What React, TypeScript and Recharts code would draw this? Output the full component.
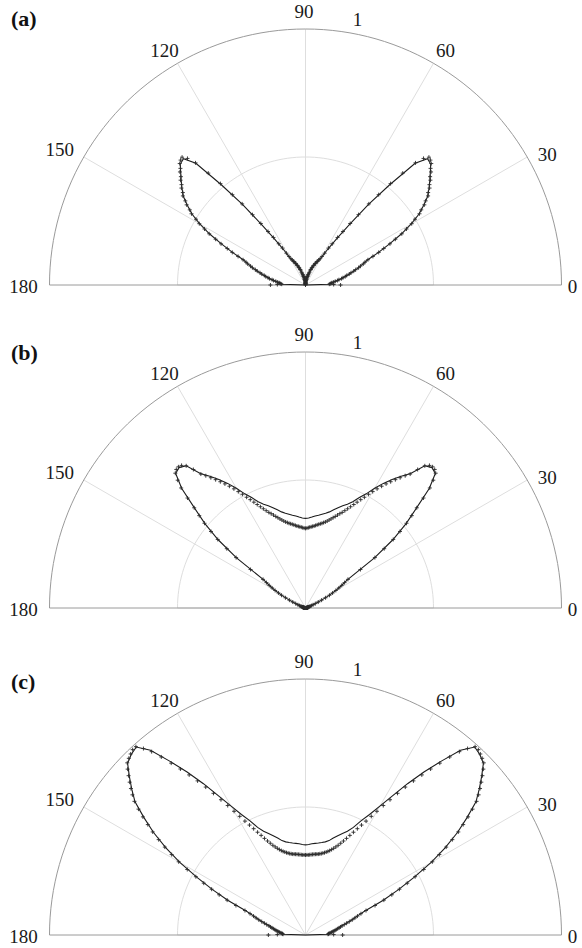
import React from "react";
import {
  RadarChart,
  Radar,
  PolarGrid,
  PolarAngleAxis,
  PolarRadiusAxis,
} from "recharts";

// angle samples (degrees) for the model curves and the simulated points
const LINE_ANGLES = [
  0, 2, 4, 6, 8, 10, 12, 14, 16, 18, 20, 22, 24, 26, 28, 30, 32, 34, 36, 38,
  40, 42, 44, 46, 48, 50, 52, 54, 56, 58, 60, 62, 64, 66, 68, 70, 72, 74, 76,
  78, 80, 82, 84, 86, 88, 90, 92, 94, 96, 98, 100, 102, 104, 106, 108, 110,
  112, 114, 116, 118, 120, 122, 124, 126, 128, 130, 132, 134, 136, 138, 140,
  142, 144, 146, 148, 150, 152, 154, 156, 158, 160, 162, 164, 166, 168, 170,
  172, 174, 176, 178, 180,
];

const SIM_ANGLES = [
  0, 1, 2, 3, 4, 5, 6, 7, 8, 9, 10, 11, 12, 13, 14, 15, 16, 17, 18, 19, 20,
  21, 22, 23, 24, 25, 26, 27, 28, 29, 30, 31, 32, 33, 34, 35, 36, 37, 38, 39,
  40, 41, 42, 43, 44, 45, 46, 47, 48, 49, 50, 51, 52, 53, 54, 55, 56, 57, 58,
  59, 60, 61, 62, 63, 64, 65, 66, 67, 68, 69, 70, 71, 72, 73, 74, 75, 76, 77,
  78, 79, 80, 81, 82, 83, 84, 85, 86, 87, 88, 89, 90, 91, 92, 93, 94, 95, 96,
  97, 98, 99, 100, 101, 102, 103, 104, 105, 106, 107, 108, 109, 110, 111, 112,
  113, 114, 115, 116, 117, 118, 119, 120, 121, 122, 123, 124, 125, 126, 127,
  128, 129, 130, 131, 132, 133, 134, 135, 136, 137, 138, 139, 140, 141, 142,
  143, 144, 145, 146, 147, 148, 149, 150, 151, 152, 153, 154, 155, 156, 157,
  158, 159, 160, 161, 162, 163, 164, 165, 166, 167, 168, 169, 170, 171, 172,
  173, 174, 175, 176, 177, 178, 179, 180,
];

const SPOKES = [30, 60, 90, 120, 150];

// (a) model
const A_LINE = [
  0, 0.09, 0.1, 0.11, 0.125, 0.142, 0.158, 0.175, 0.195, 0.217, 0.238, 0.261,
  0.311, 0.364, 0.424, 0.477, 0.523, 0.557, 0.59, 0.612, 0.634, 0.656, 0.68,
  0.686, 0.64, 0.51, 0.4, 0.293, 0.22, 0.168, 0.125, 0.11, 0.1, 0.09, 0.08,
  0.07, 0.06, 0.047, 0.039, 0.033, 0.027, 0.021, 0.016, 0.01, 0.005, 0,
  0.005, 0.01, 0.016, 0.021, 0.027, 0.033, 0.039, 0.047, 0.06, 0.07, 0.08,
  0.09, 0.1, 0.11, 0.125, 0.168, 0.22, 0.293, 0.4, 0.51, 0.64, 0.686, 0.68,
  0.656, 0.634, 0.612, 0.59, 0.557, 0.523, 0.477, 0.424, 0.364, 0.311, 0.261,
  0.238, 0.217, 0.195, 0.175, 0.158, 0.142, 0.125, 0.11, 0.1, 0.09, 0,
];

// (a) simulation
const A_SIM = [
  0.137, 0.11, 0.093, 0.097, 0.101, 0.104, 0.111, 0.117, 0.126, 0.132,
  0.143, 0.149, 0.159, 0.165, 0.176, 0.184, 0.196, 0.205, 0.218, 0.227,
  0.24, 0.249, 0.263, 0.286, 0.313, 0.337, 0.367, 0.394, 0.426, 0.451,
  0.479, 0.499, 0.525, 0.539, 0.56, 0.573, 0.592, 0.6, 0.615, 0.623,
  0.637, 0.645, 0.66, 0.668, 0.683, 0.69, 0.694, 0.676, 0.642, 0.579,
  0.517, 0.454, 0.402, 0.344, 0.297, 0.255, 0.224, 0.192, 0.17, 0.145,
  0.129, 0.117, 0.111, 0.104, 0.101, 0.094, 0.091, 0.084, 0.081, 0.074,
  0.071, 0.064, 0.061, 0.052, 0.048, 0.042, 0.04, 0.035, 0.034, 0.029,
  0.028, 0.023, 0.022, 0.017, 0.017, 0.012, 0.011, 0.007, 0.006, 0.002,
  0, 0.002, 0.006, 0.007, 0.011, 0.012, 0.017, 0.017, 0.022, 0.023,
  0.028, 0.029, 0.034, 0.035, 0.04, 0.042, 0.048, 0.052, 0.061, 0.064,
  0.071, 0.074, 0.081, 0.084, 0.091, 0.094, 0.101, 0.104, 0.111, 0.117,
  0.129, 0.145, 0.17, 0.192, 0.224, 0.255, 0.297, 0.344, 0.402, 0.454,
  0.517, 0.579, 0.642, 0.676, 0.694, 0.69, 0.683, 0.668, 0.66, 0.645,
  0.637, 0.623, 0.615, 0.6, 0.592, 0.573, 0.56, 0.539, 0.525, 0.499,
  0.479, 0.451, 0.426, 0.394, 0.367, 0.337, 0.313, 0.286, 0.263, 0.249,
  0.24, 0.227, 0.218, 0.205, 0.196, 0.184, 0.176, 0.165, 0.159, 0.149,
  0.143, 0.132, 0.126, 0.117, 0.111, 0.104, 0.101, 0.097, 0.093, 0.11,
  0.137,
];

// (b) model
const B_LINE = [
  0, 0.002, 0.003, 0.004, 0.005, 0.006, 0.007, 0.008, 0.01, 0.012, 0.015,
  0.024, 0.041, 0.07, 0.105, 0.136, 0.166, 0.197, 0.333, 0.433, 0.513, 0.583,
  0.672, 0.73, 0.738, 0.725, 0.667, 0.636, 0.605, 0.574, 0.54, 0.505, 0.48,
  0.454, 0.437, 0.425, 0.412, 0.399, 0.387, 0.378, 0.372, 0.366, 0.361,
  0.356, 0.352, 0.35, 0.352, 0.356, 0.361, 0.366, 0.372, 0.378, 0.387, 0.399,
  0.412, 0.425, 0.437, 0.454, 0.48, 0.505, 0.54, 0.574, 0.605, 0.636, 0.667,
  0.725, 0.738, 0.73, 0.672, 0.583, 0.513, 0.433, 0.333, 0.197, 0.166, 0.136,
  0.105, 0.07, 0.041, 0.024, 0.015, 0.012, 0.01, 0.008, 0.007, 0.006, 0.005,
  0.004, 0.003, 0.002, 0,
];

// (b) simulation
const B_SIM = [
  0, 0, 0.002, 0.003, 0.004, 0.004, 0.005, 0.005, 0.006, 0.006,
  0.007, 0.007, 0.008, 0.008, 0.009, 0.01, 0.011, 0.012, 0.013, 0.014,
  0.016, 0.02, 0.025, 0.032, 0.042, 0.055, 0.07, 0.088, 0.106, 0.121,
  0.137, 0.152, 0.167, 0.182, 0.2, 0.262, 0.335, 0.385, 0.435, 0.475,
  0.515, 0.55, 0.585, 0.63, 0.675, 0.706, 0.732, 0.74, 0.742, 0.738,
  0.725, 0.696, 0.664, 0.647, 0.629, 0.612, 0.595, 0.578, 0.561, 0.543,
  0.525, 0.508, 0.49, 0.475, 0.46, 0.446, 0.433, 0.421, 0.41, 0.4,
  0.392, 0.384, 0.376, 0.369, 0.362, 0.356, 0.35, 0.345, 0.341, 0.337,
  0.334, 0.331, 0.328, 0.325, 0.322, 0.32, 0.318, 0.316, 0.314, 0.312,
  0.311, 0.312, 0.314, 0.316, 0.318, 0.32, 0.322, 0.325, 0.328, 0.331,
  0.334, 0.337, 0.341, 0.345, 0.35, 0.356, 0.362, 0.369, 0.376, 0.384,
  0.392, 0.4, 0.41, 0.421, 0.433, 0.446, 0.46, 0.475, 0.49, 0.508,
  0.525, 0.543, 0.561, 0.578, 0.595, 0.612, 0.629, 0.647, 0.664, 0.696,
  0.725, 0.738, 0.742, 0.74, 0.732, 0.706, 0.675, 0.63, 0.585, 0.55,
  0.515, 0.475, 0.435, 0.385, 0.335, 0.262, 0.2, 0.182, 0.167, 0.152,
  0.137, 0.121, 0.106, 0.088, 0.07, 0.055, 0.042, 0.032, 0.025, 0.02,
  0.016, 0.014, 0.013, 0.012, 0.011, 0.01, 0.009, 0.008, 0.008, 0.007,
  0.007, 0.006, 0.006, 0.005, 0.005, 0.004, 0.004, 0.003, 0.002, 0,
  0,
];

// (c) model
const C_LINE = [
  0, 0.085, 0.09, 0.1, 0.11, 0.12, 0.132, 0.145, 0.165, 0.19, 0.213, 0.25,
  0.331, 0.404, 0.48, 0.567, 0.643, 0.716, 0.78, 0.845, 0.886, 0.926, 0.966,
  0.98, 0.988, 0.942, 0.862, 0.787, 0.713, 0.641, 0.581, 0.533, 0.497, 0.46,
  0.437, 0.422, 0.408, 0.394, 0.38, 0.372, 0.367, 0.363, 0.36, 0.357, 0.354,
  0.352, 0.354, 0.357, 0.36, 0.363, 0.367, 0.372, 0.38, 0.394, 0.408, 0.422,
  0.437, 0.46, 0.497, 0.533, 0.581, 0.641, 0.713, 0.787, 0.862, 0.942, 0.988,
  0.98, 0.966, 0.926, 0.886, 0.845, 0.78, 0.716, 0.643, 0.567, 0.48, 0.404,
  0.331, 0.25, 0.213, 0.19, 0.165, 0.145, 0.132, 0.12, 0.11, 0.1, 0.09,
  0.085, 0,
];

// (c) simulation
const C_SIM = [
  0.145, 0.11, 0.088, 0.09, 0.093, 0.097, 0.102, 0.107, 0.112, 0.117,
  0.122, 0.128, 0.134, 0.14, 0.147, 0.157, 0.167, 0.179, 0.192, 0.204,
  0.216, 0.232, 0.255, 0.295, 0.335, 0.372, 0.408, 0.446, 0.485, 0.528,
  0.572, 0.61, 0.648, 0.684, 0.72, 0.752, 0.785, 0.817, 0.848, 0.87,
  0.89, 0.91, 0.93, 0.95, 0.968, 0.976, 0.983, 0.99, 0.99, 0.965,
  0.935, 0.895, 0.852, 0.812, 0.773, 0.735, 0.697, 0.66, 0.623, 0.59,
  0.558, 0.53, 0.504, 0.482, 0.462, 0.443, 0.426, 0.41, 0.396, 0.384,
  0.373, 0.364, 0.356, 0.349, 0.343, 0.338, 0.334, 0.33, 0.327, 0.324,
  0.322, 0.32, 0.319, 0.318, 0.317, 0.316, 0.315, 0.314, 0.313, 0.313,
  0.3125, 0.313, 0.313, 0.314, 0.315, 0.316, 0.317, 0.318, 0.319, 0.32,
  0.322, 0.324, 0.327, 0.33, 0.334, 0.338, 0.343, 0.349, 0.356, 0.364,
  0.373, 0.384, 0.396, 0.41, 0.426, 0.443, 0.462, 0.482, 0.504, 0.53,
  0.558, 0.59, 0.623, 0.66, 0.697, 0.735, 0.773, 0.812, 0.852, 0.895,
  0.935, 0.965, 0.99, 0.99, 0.983, 0.976, 0.968, 0.95, 0.93, 0.91,
  0.89, 0.87, 0.848, 0.817, 0.785, 0.752, 0.72, 0.684, 0.648, 0.61,
  0.572, 0.528, 0.485, 0.446, 0.408, 0.372, 0.335, 0.295, 0.255, 0.232,
  0.216, 0.204, 0.192, 0.179, 0.167, 0.157, 0.147, 0.14, 0.134, 0.128,
  0.122, 0.117, 0.112, 0.107, 0.102, 0.097, 0.093, 0.09, 0.088, 0.11,
  0.145,
];

const W = 582;
const H = 312;
const CX = 305.5;
const CY = 290;
const R = 256;
const SERIF = "'Liberation Serif', 'Times New Roman', serif";
const NO_MARGIN = { top: 0, right: 0, bottom: 0, left: 0 };

// label nudges around the default tick anchor
const ANGLE_SHIFT: Record<number, [number, number]> = {
  0: [3, 1],
  30: [13, 1],
  60: [8, -6],
  90: [-1.5, -9.5],
  120: [-9, -6],
  150: [-17, -4],
  180: [-18, 1],
};
const RADIUS_SHIFT: Record<number, [number, number]> = {
  0.5: [20, -17],
  1: [7.5, -13],
};

function AngleTick(props: any) {
  const { x, y, payload } = props;
  const shift = ANGLE_SHIFT[payload.value];
  if (!shift) return null;
  return (
    <text
      x={x + shift[0]}
      y={y + shift[1]}
      textAnchor="middle"
      dominantBaseline="central"
      fontFamily={SERIF}
      fontSize={19}
      fill="#1a1a1a"
    >
      {payload.value}
    </text>
  );
}

function RadiusTick(props: any) {
  const { x, y, payload } = props;
  const shift = RADIUS_SHIFT[payload.value];
  if (!shift) return null;
  return (
    <text
      x={x + shift[0]}
      y={y + shift[1]}
      textAnchor="middle"
      dominantBaseline="central"
      fontFamily={SERIF}
      fontSize={19}
      fill="#1a1a1a"
    >
      {payload.value}
    </text>
  );
}

function Cross(props: any) {
  const { cx, cy, index } = props;
  if (cx == null || cy == null) return <g key={`x-${index}`} />;
  return (
    <path
      key={`x-${index}`}
      d={`M${cx - 2},${cy}h4M${cx},${cy - 2}v4`}
      stroke="#2a2a2a"
      strokeWidth={0.9}
      fill="none"
    />
  );
}

type PanelProps = {
  tag: string;
  line: number[];
  sim: number[];
  top: number;
  tagTop: number;
};

function Panel({ tag, line, sim, top, tagTop }: PanelProps) {
  const lineRows = LINE_ANGLES.map((angle, i) => ({ angle, r: line[i] }));
  const simRows = SIM_ANGLES.map((angle, i) => ({ angle, r: sim[i] }));
  const common = {
    width: W,
    height: H,
    cx: CX,
    cy: CY,
    outerRadius: R,
    startAngle: 0,
    endAngle: 180,
    margin: NO_MARGIN,
  };
  return (
    <div style={{ position: "absolute", left: 0, top, width: W, height: H }}>
      <div style={{ position: "absolute", left: 0, top: 0 }}>
        <RadarChart {...common} data={lineRows}>
          <PolarGrid
            gridType="polygon"
            polarAngles={LINE_ANGLES}
            polarRadius={[R / 2]}
            radialLines={false}
            stroke="#dedede"
          />
          <PolarGrid
            gridType="polygon"
            polarAngles={SPOKES}
            polarRadius={[0]}
            stroke="#dedede"
          />
          <PolarGrid
            gridType="polygon"
            polarAngles={LINE_ANGLES}
            polarRadius={[R]}
            radialLines={false}
            stroke="#9a9a9a"
          />
          <PolarAngleAxis
            dataKey="angle"
            type="number"
            domain={[0, 180]}
            tickCount={7}
            axisLine={false}
            tickLine={false}
            tick={AngleTick}
          />
          <PolarRadiusAxis
            angle={80}
            type="number"
            domain={[0, 1]}
            tickCount={3}
            axisLine={false}
            tickLine={false}
            tick={RadiusTick}
          />
          <Radar
            dataKey="r"
            stroke="#1c1c1c"
            strokeWidth={1.1}
            fill="none"
            dot={false}
            isAnimationActive={false}
          />
        </RadarChart>
      </div>
      <div style={{ position: "absolute", left: 0, top: 0 }}>
        <RadarChart {...common} data={simRows}>
          <PolarAngleAxis
            dataKey="angle"
            type="number"
            domain={[0, 180]}
            tickCount={7}
            axisLine={false}
            tickLine={false}
            tick={false}
          />
          <PolarRadiusAxis
            angle={80}
            type="number"
            domain={[0, 1]}
            tickCount={3}
            axisLine={false}
            tickLine={false}
            tick={false}
          />
          <Radar
            dataKey="r"
            stroke="none"
            fill="none"
            dot={Cross}
            isAnimationActive={false}
          />
        </RadarChart>
      </div>
      <div
        style={{
          position: "absolute",
          left: 11,
          top: tagTop,
          fontFamily: SERIF,
          fontWeight: "bold",
          fontSize: 22,
          lineHeight: "22px",
          color: "#111",
        }}
      >
        {tag}
      </div>
    </div>
  );
}

export default function App() {
  return (
    <div
      style={{
        position: "absolute",
        left: 0,
        top: 0,
        width: W,
        height: 948,
        background: "#fff",
        overflow: "hidden",
      }}
    >
      <Panel tag="(a)" line={A_LINE} sim={A_SIM} top={285 - CY} tagTop={13} />
      <Panel tag="(b)" line={B_LINE} sim={B_SIM} top={608 - CY} tagTop={24} />
      <Panel tag="(c)" line={C_LINE} sim={C_SIM} top={935 - CY} tagTop={26} />
    </div>
  );
}
